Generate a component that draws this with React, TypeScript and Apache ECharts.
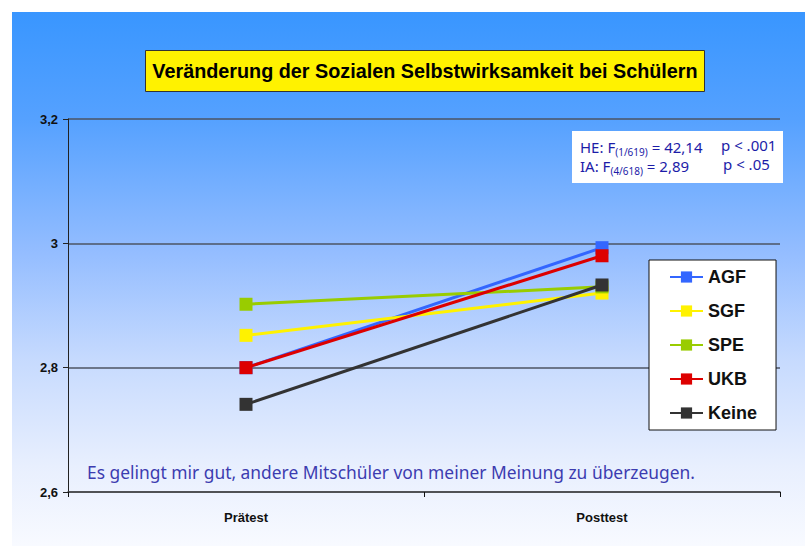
import React, { useEffect, useRef } from "react";
import * as echarts from "echarts";

const categories = ["Prätest", "Posttest"];
const seriesNames = ["AGF", "SGF", "SPE", "UKB", "Keine"];
const agf = [2.8, 2.993];
const sgf = [2.852, 2.92];
const spe = [2.902, 2.93];
const ukb = [2.8, 2.98];
const keine = [2.741, 2.933];
const seriesColors = ["#3366ff", "#fff200", "#99cc00", "#dd0000", "#333333"];
const yTicks = { min: 2.6, max: 3.2, interval: 0.2 };
const titleText = "Veränderung der Sozialen Selbstwirksamkeit bei Schülern";
const noteText = "Es gelingt mir gut, andere Mitschüler von meiner Meinung zu überzeugen.";

export default function App() {
  const ref = useRef<HTMLDivElement>(null);
  useEffect(() => {
    if (!ref.current) return;
    const chart = echarts.init(ref.current, null, { renderer: "svg" });
    const values = [agf, sgf, spe, ukb, keine];
    const bold = "'Liberation Sans', Arial, sans-serif";
    const noteFont = "'Noto Sans', sans-serif";
    const statColor = "#1c1ca8";
    const statRich = {
      m: { fontFamily: noteFont, fontSize: 15, fill: statColor, lineHeight: 20, verticalAlign: "middle" },
      s: { fontFamily: noteFont, fontSize: 10, fill: statColor, lineHeight: 14, verticalAlign: "bottom" },
    };
    chart.setOption({
      animation: false,
      grid: { left: 68, right: 25, top: 119, bottom: 54, containLabel: false },
      xAxis: {
        type: "category",
        data: categories,
        boundaryGap: true,
        axisLine: { lineStyle: { color: "#444", width: 1.5 } },
        axisTick: { show: true, length: 5, lineStyle: { color: "#111" } },
        axisLabel: { margin: 19, fontFamily: bold, fontWeight: "bold", fontSize: 13, color: "#111" },
      },
      yAxis: {
        type: "value",
        min: yTicks.min,
        max: yTicks.max,
        interval: yTicks.interval,
        axisLine: { show: true, lineStyle: { color: "#222", width: 1 } },
        axisTick: { show: true, length: 5, lineStyle: { color: "#222" } },
        splitLine: { show: true, lineStyle: { color: "#4d5563", width: 1.5 } },
        axisLabel: {
          margin: 10,
          fontFamily: bold,
          fontWeight: "bold",
          fontSize: 13,
          color: "#111",
          formatter: (v: number) => String(Math.round(v * 10) / 10).replace(".", ","),
        },
      },
      legend: {
        orient: "vertical",
        left: 649,
        top: 260,
        data: seriesNames,
        backgroundColor: "#ffffff",
        borderColor: "#111",
        borderWidth: 1,
        borderRadius: 0,
        padding: [7, 19, 7, 20],
        itemWidth: 33,
        itemHeight: 14,
        itemGap: 14,
        textStyle: { fontFamily: bold, fontWeight: "bold", fontSize: 18, color: "#111", lineHeight: 20 },
      },
      series: seriesNames.map((name, i) => ({
        name,
        type: "line",
        data: values[i],
        symbol: "rect",
        symbolSize: 13,
        color: seriesColors[i],
        lineStyle: { width: 3, color: seriesColors[i] },
        itemStyle: { color: seriesColors[i] },
        z: 3 + i,
      })),
      graphic: [
        {
          type: "rect",
          z: -100,
          silent: true,
          shape: { x: 12, y: 12, width: 793, height: 534 },
          style: {
            fill: new echarts.graphic.LinearGradient(0, 0, 0, 1, [
              { offset: 0, color: "#3996ff" },
              { offset: 0.2, color: "#55a1ff" },
              { offset: 0.45, color: "#94bdff" },
              { offset: 0.65, color: "#c6dafe" },
              { offset: 0.85, color: "#e8effe" },
              { offset: 1, color: "#f8faff" },
            ]),
          },
        },
        {
          type: "rect",
          z: 100,
          shape: { x: 145.5, y: 50.5, width: 559, height: 41 },
          style: { fill: "#fff200", stroke: "#333", lineWidth: 1 },
        },
        {
          type: "text",
          z: 101,
          x: 425,
          y: 71,
          style: {
            text: titleText,
            fontFamily: "'Liberation Sans Narrow', 'Liberation Sans', Arial, sans-serif",
            fontWeight: "bold",
            fontSize: 19.8,
            fill: "#000",
            align: "center",
            verticalAlign: "middle",
          },
        },
        {
          type: "rect",
          z: 100,
          shape: { x: 572, y: 131, width: 211, height: 52 },
          style: { fill: "#ffffff" },
        },
        {
          type: "text",
          z: 101,
          x: 580,
          y: 147,
          style: { text: "{m|HE: F}{s|(1/619)}{m| = 42,14}", verticalAlign: "middle", rich: statRich },
        },
        {
          type: "text",
          z: 101,
          x: 580,
          y: 166,
          style: { text: "{m|IA: F}{s|(4/618)}{m| = 2,89}", verticalAlign: "middle", rich: statRich },
        },
        {
          type: "text",
          z: 101,
          x: 721,
          y: 145,
          style: { text: "p < .001", fontFamily: noteFont, fontSize: 15, fill: statColor, verticalAlign: "middle" },
        },
        {
          type: "text",
          z: 101,
          x: 723,
          y: 164,
          style: { text: "p < .05", fontFamily: noteFont, fontSize: 15, fill: statColor, verticalAlign: "middle" },
        },
        {
          type: "text",
          z: 101,
          x: 87,
          y: 472,
          style: { text: noteText, fontFamily: noteFont, fontSize: 17.4, fill: "#3c3cb0", verticalAlign: "middle" },
        },
      ],
    });
    return () => chart.dispose();
  }, []);
  return (
    <div
      ref={ref}
      style={{ position: "fixed", left: 0, top: 0, width: 805, height: 546, background: "#ffffff" }}
    />
  );
}
